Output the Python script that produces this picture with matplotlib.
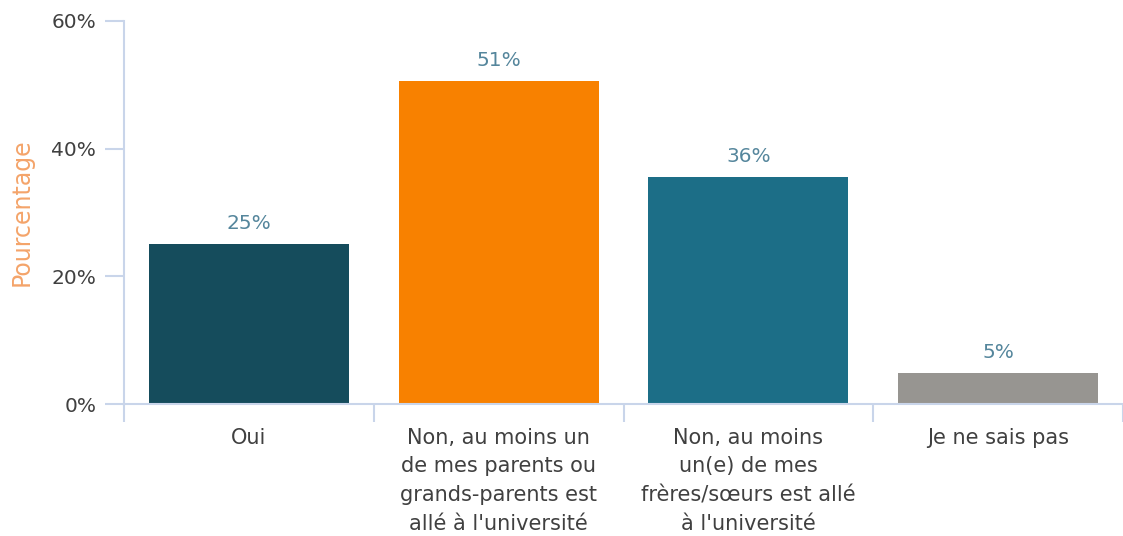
import numpy as np
import matplotlib.pyplot as plt
from matplotlib.ticker import FixedLocator

# data
categories = ["Oui",
              "Non, au moins un\nde mes parents ou\ngrands-parents est\nallé à l'université",
              "Non, au moins\nun(e) de mes\nfrères/sœurs est allé\nà l'université",
              "Je ne sais pas"]
values = [25.1, 50.6, 35.6, 4.9]
bar_colors = ["#154C5C", "#F88100", "#1C6E87", "#979591"]
yticks = [0, 20, 40, 60]

plt.rcParams['font.family'] = ['DejaVu Sans']
axis_col = "#C9D5EA"
text_col = "#404040"

fig = plt.figure(figsize=(11.23, 5.36), dpi=100)
ax = fig.add_axes([124/1123, 1-404/536, 999/1123, 383/536])

x = np.arange(len(categories))
bars = ax.bar(x, values, width=0.8, color=bar_colors, zorder=2)

for b, v in zip(bars, values):
    ax.annotate(f"{v:.0f}%", (b.get_x() + b.get_width()/2, v),
                xytext=(0, 8), textcoords="offset points",
                ha="center", va="bottom", fontsize=14.5, color="#55869C")

ax.set_xlim(-0.5, 3.5)
ax.set_ylim(0, 60)
ax.set_yticks(yticks)
ax.set_yticklabels([f"{t}%" for t in yticks], fontsize=14.5, color=text_col)
ax.set_xticks(x)
ax.set_xticklabels(categories, fontsize=15, color=text_col, linespacing=1.55,
                   va="top")
ax.xaxis.set_minor_locator(FixedLocator([-0.5, 0.5, 1.5, 2.5, 3.5]))

ax.tick_params(axis="x", which="major", length=0, pad=17)
ax.tick_params(axis="x", which="minor", length=13, width=1.5, color=axis_col)
ax.tick_params(axis="y", length=14, width=1.5, color=axis_col, pad=6)

for s in ["top", "right"]:
    ax.spines[s].set_visible(False)
for s in ["left", "bottom"]:
    ax.spines[s].set_color(axis_col)
    ax.spines[s].set_linewidth(1.5)

ax.set_ylabel("Pourcentage", fontsize=17, color="#F4A46A", labelpad=13)

fig.savefig("out.png", dpi=100)
